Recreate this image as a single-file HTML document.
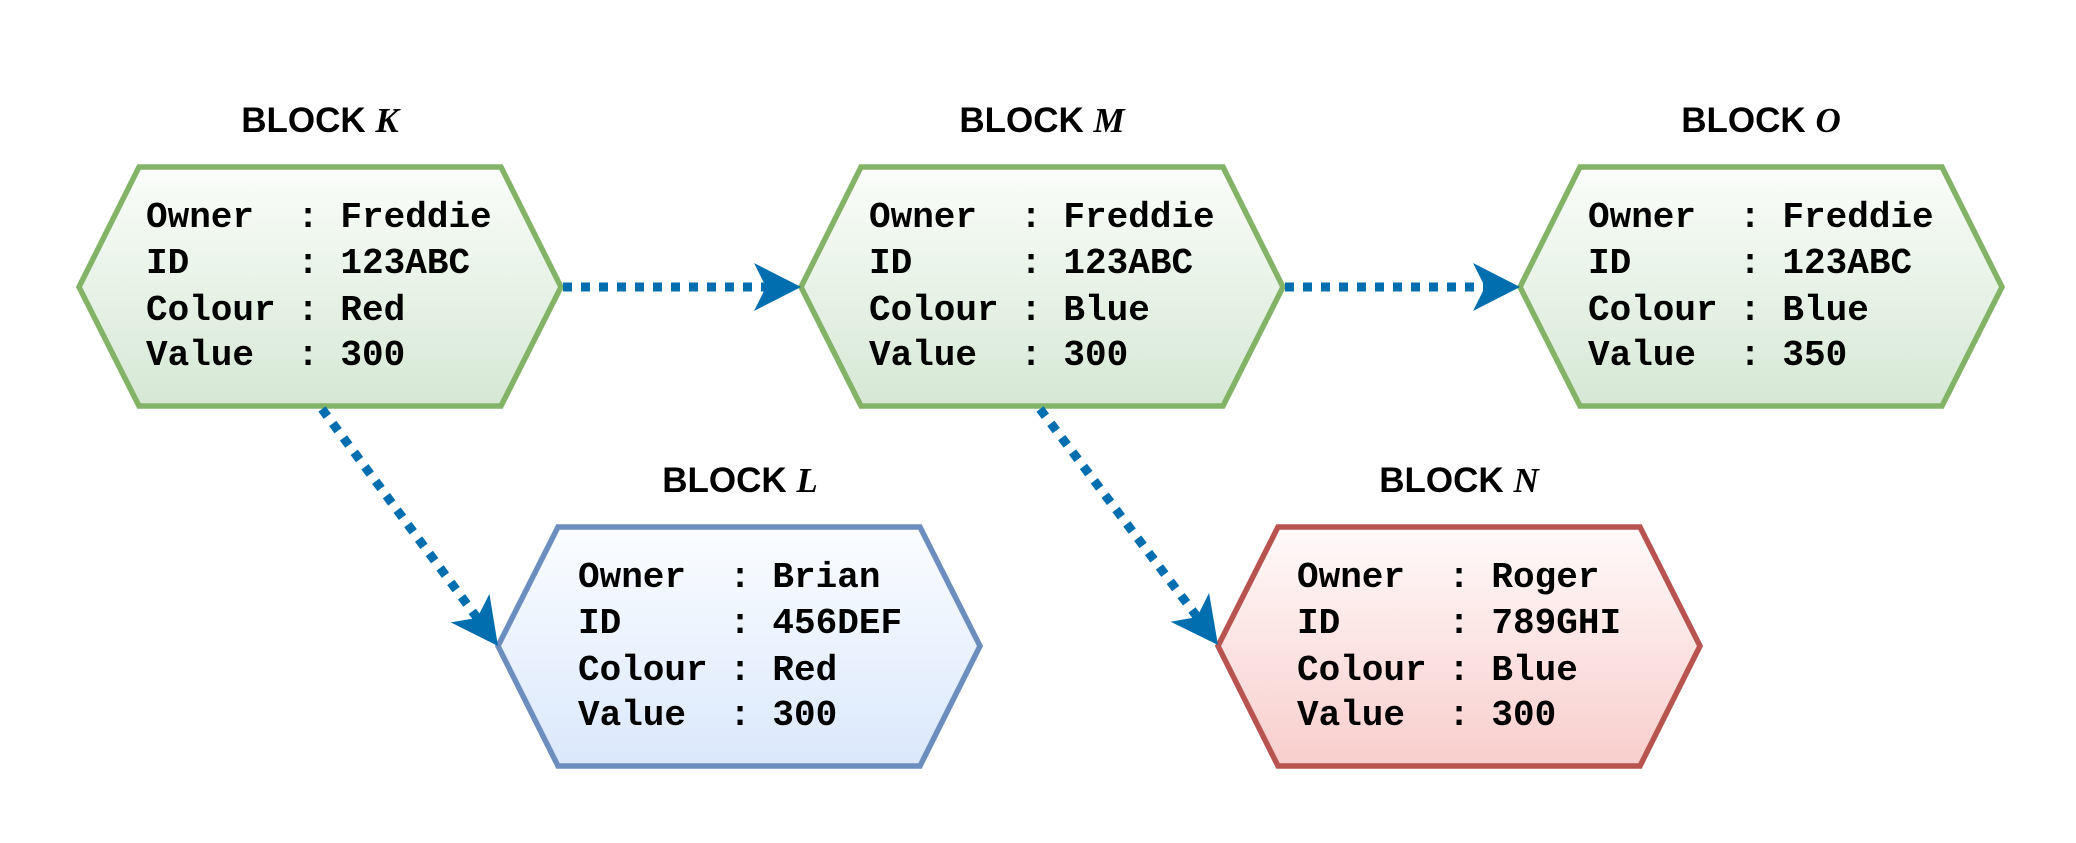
<!DOCTYPE html>
<html><head><meta charset="utf-8"><style>
html,body{margin:0;padding:0;background:#fff;}
svg{display:block;}
.t{font-family:"Liberation Sans",sans-serif;font-weight:bold;font-size:35px;}
.v{font-family:"Liberation Serif",serif;font-style:italic;font-weight:bold;}
.m text{font-family:"Liberation Mono",monospace;font-weight:bold;font-size:36px;white-space:pre;}
</style></head><body>
<svg width="2076" height="843" viewBox="0 0 2076 843" xmlns="http://www.w3.org/2000/svg">
<defs>
<linearGradient id="g" x1="0" y1="0" x2="0" y2="1"><stop offset="0" stop-color="#fbfdfa"/><stop offset="1" stop-color="#d5e8d4"/></linearGradient>
<linearGradient id="b" x1="0" y1="0" x2="0" y2="1"><stop offset="0" stop-color="#fbfdff"/><stop offset="1" stop-color="#dae8fc"/></linearGradient>
<linearGradient id="r" x1="0" y1="0" x2="0" y2="1"><stop offset="0" stop-color="#fffafa"/><stop offset="1" stop-color="#f8cecc"/></linearGradient>
</defs>
<g stroke-width="5.5" stroke-linejoin="miter">
<polygon points="79,287 139,167 501,167 561,287 501,406 139,406" fill="url(#g)" stroke="#82b366"/>
<polygon points="801,287 861,167 1223,167 1283,287 1223,406 861,406" fill="url(#g)" stroke="#82b366"/>
<polygon points="1520,287 1580,167 1942,167 2002,287 1942,406 1580,406" fill="url(#g)" stroke="#82b366"/>
<polygon points="498,646 558,527 920,527 980,646 920,766 558,766" fill="url(#b)" stroke="#6c8ebf"/>
<polygon points="1218,646 1278,527 1640,527 1700,646 1640,766 1278,766" fill="url(#r)" stroke="#b85450"/>
</g>
<g stroke="#006eaf" stroke-width="9" stroke-dasharray="9 9" fill="none">
<line x1="563" y1="287" x2="768" y2="287"/>
<line x1="1285" y1="287" x2="1486" y2="287"/>
<line x1="322" y1="409" x2="478" y2="619"/>
<line x1="1040" y1="409" x2="1198" y2="618"/>
</g>
<g fill="#006eaf">
<g transform="translate(801,287)"><path d="M0,0 L-47,-24 L-35,0 L-47,24 Z"/></g>
<g transform="translate(1520,287)"><path d="M0,0 L-47,-24 L-35,0 L-47,24 Z"/></g>
<g transform="translate(498,646) rotate(53.6)"><path d="M0,0 L-47,-24 L-35,0 L-47,24 Z"/></g>
<g transform="translate(1218,645) rotate(53.2)"><path d="M0,0 L-47,-24 L-35,0 L-47,24 Z"/></g>
</g>
<g class="t" text-anchor="middle">
<text x="320" y="132">BLOCK <tspan class="v">K</tspan></text>
<text x="1042" y="132">BLOCK <tspan class="v">M</tspan></text>
<text x="1761" y="132">BLOCK <tspan class="v">O</tspan></text>
<text x="740" y="492">BLOCK <tspan class="v">L</tspan></text>
<text x="1459" y="492">BLOCK <tspan class="v">N</tspan></text>
</g>
<g class="m">
<text x="146" y="227">Owner  : Freddie</text>
<text x="146" y="273">ID     : 123ABC</text>
<text x="146" y="320">Colour : Red</text>
<text x="146" y="365">Value  : 300</text>
<text x="869" y="227">Owner  : Freddie</text>
<text x="869" y="273">ID     : 123ABC</text>
<text x="869" y="320">Colour : Blue</text>
<text x="869" y="365">Value  : 300</text>
<text x="1588" y="227">Owner  : Freddie</text>
<text x="1588" y="273">ID     : 123ABC</text>
<text x="1588" y="320">Colour : Blue</text>
<text x="1588" y="365">Value  : 350</text>
<text x="578" y="587">Owner  : Brian</text>
<text x="578" y="633">ID     : 456DEF</text>
<text x="578" y="680">Colour : Red</text>
<text x="578" y="725">Value  : 300</text>
<text x="1297" y="587">Owner  : Roger</text>
<text x="1297" y="633">ID     : 789GHI</text>
<text x="1297" y="680">Colour : Blue</text>
<text x="1297" y="725">Value  : 300</text>
</g>
</svg>
</body></html>
